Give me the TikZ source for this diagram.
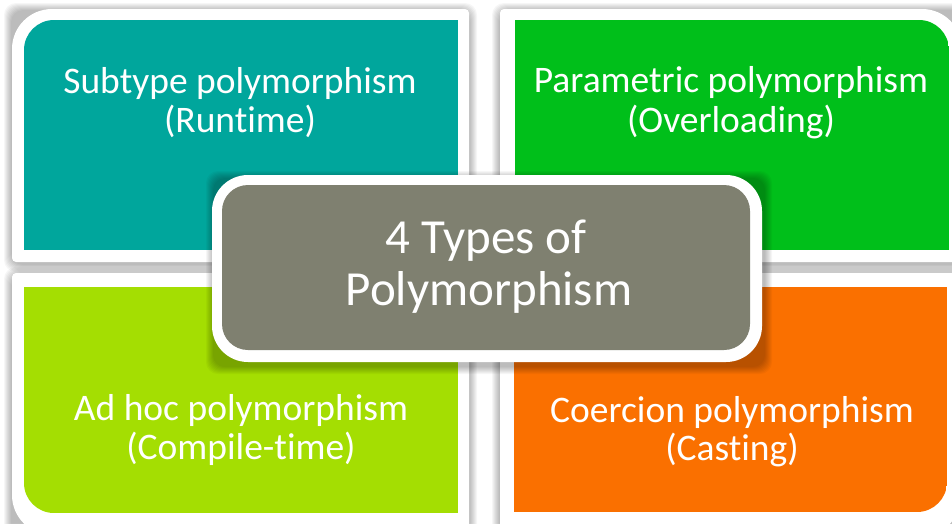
\documentclass[tikz,border=0pt]{standalone}
\usepackage{fontspec}
\setmainfont[Ligatures=NoCommon]{Carlito}
\definecolor{qteal}{HTML}{00A69C}
\definecolor{qgreen}{HTML}{00BF1A}
\definecolor{qlime}{HTML}{A4DE02}
\definecolor{qorange}{HTML}{FA7000}
\definecolor{qgray}{HTML}{7F8070}
% #1 colour, (#2,#3) outer corner, (#4,#5) inner corner, #6 outer radius, #7 inner radius
\newcommand\qcornerbox[7]{%
  \begin{scope}
    \clip[rounded corners=#6] (#2,#3) rectangle ({2*#4-#2},{2*#5-#3});
    \fill[#1, rounded corners=#7] (#2,#3) rectangle (#4,#5);
  \end{scope}}
% soft shadow around a box (#1,#2)-(#3,#4), offset (#5,#6)
\newcommand\qshadow[6]{%
  \foreach \k in {1,...,8}{
    \fill[black, opacity=0.035, rounded corners=12]
      ({min(#1,#3)-\k+#5},{min(#2,#4)-\k+#6}) rectangle ({max(#1,#3)+\k+#5},{max(#2,#4)+\k+#6});
  }}
\tikzset{
  qlabel/.style={text=white, anchor=base, inner sep=0pt, font=\fontsize{37.5}{40}\selectfont},
  qtitle/.style={text=white, anchor=base, inner sep=0pt, font=\fontsize{49}{52}\selectfont}
}
\begin{document}
\begin{tikzpicture}[x=1pt, y=-1pt]
  \useasboundingbox (0,0) rectangle (952,523);
  \fill[white] (0,0) rectangle (952,523);
  % shadows of the four frames
  \qshadow{12}{9}{469}{262}{0}{2}
  \qshadow{500}{9}{962}{262}{0}{2}
  \qshadow{12}{273}{469}{535}{0}{2}
  \qshadow{500}{273}{962}{535}{0}{2}
  % white frames
  \qcornerbox{white}{12}{9}{469}{262}{40}{4}
  \qcornerbox{white}{962}{9}{500}{262}{40}{4}
  \qcornerbox{white}{12}{535}{469}{273}{40}{4}
  \qcornerbox{white}{962}{535}{500}{273}{40}{4}
  % coloured panels
  \qcornerbox{qteal}{24}{20}{458}{250}{30}{0}
  \qcornerbox{qgreen}{949}{20}{515}{250}{30}{0}
  \qcornerbox{qlime}{24}{513}{458}{287}{30}{0}
  \qcornerbox{qorange}{947}{512}{514}{287}{30}{0}
  % centre box
  \qshadow{212}{175}{762}{362}{2}{4}
  \fill[white, rounded corners=36] (212,175) rectangle (762,362);
  \fill[qgray, rounded corners=26] (222,185) rectangle (750,350);
  % texts
  \node[qlabel] (tl1) at (240,93) {Subtype polymorphism};
  \node[qlabel] (tl2) at (240,132) {(Runtime)};
  \node[qlabel] (tr1) at (731,92) {Parametric polymorphism};
  \node[qlabel] (tr2) at (731,132) {(Overloading)};
  \node[qlabel] (bl1) at (241,420) {Ad hoc polymorphism};
  \node[qlabel] (bl2) at (241,459) {(Compile-time)};
  \node[qlabel] (br1) at (732,422) {Coercion polymorphism};
  \node[qlabel] (br2) at (732,460) {(Casting)};
  \node[qtitle] (c1) at (486,253) {4 Types of};
  \node[qtitle] (c2) at (489,305) {Polymorphism};
\end{tikzpicture}
\end{document}
